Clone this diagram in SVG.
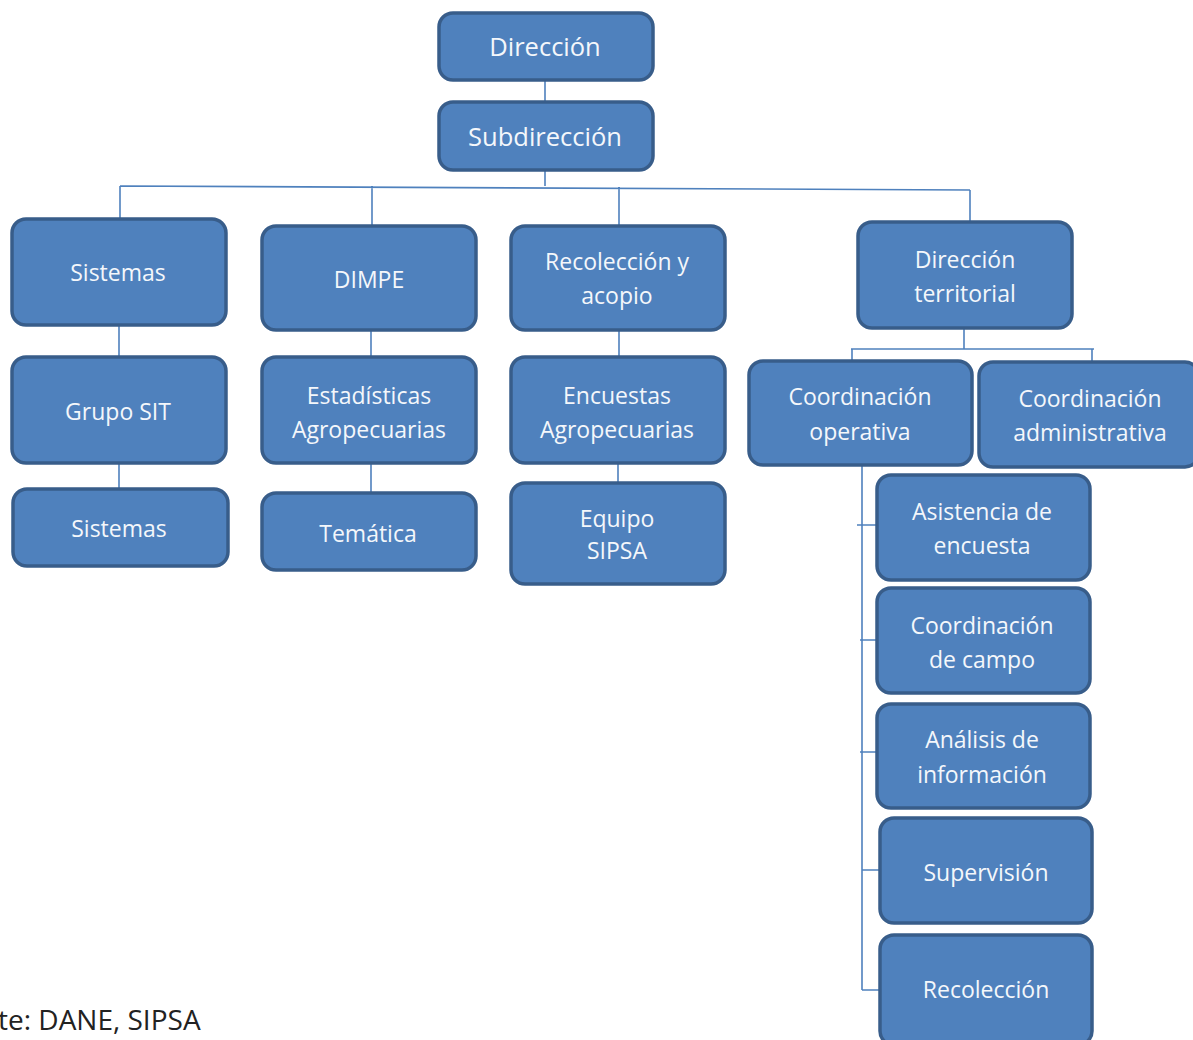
<svg xmlns="http://www.w3.org/2000/svg" width="1193" height="1040" viewBox="0 0 1193 1040">
<style>
.box{fill:#4f81bd;stroke:#385d8a;stroke-width:3.5}
.t{font-family:"Open Sans","Noto Sans","Liberation Sans",sans-serif;font-size:23px;fill:#f4f7fb;text-anchor:middle;dominant-baseline:central}
.big{font-size:25.5px}
.c{fill:none;stroke:#4f81bd;stroke-width:1.6}
</style>
<rect width="1193" height="1040" fill="#ffffff"/>
<g id="connectors">
<path class="c" d="M545 80V102M545 170V186M120 186L970 190M120 186V219M372 186V226M619 187V226M970 190V222"/>
<path class="c" d="M119 325V357M119 463V489M371 330V357M371 463V493M619 330V357M618 463V483"/>
<path class="c" d="M964 328V349M851 349H1094M852 349V361M1092 349V362"/>
<path class="c" d="M862 465V990M857 525H877M860 640H877M860 752H877M862 870H880M862 990H880"/>
</g>
<g id="n-direccion"><rect class="box" x="439" y="13" width="214" height="67" rx="14"/><text class="t big" x="545" y="46">Dirección</text></g>
<g id="n-subdireccion"><rect class="box" x="439" y="102" width="214" height="68" rx="14"/><text class="t big" x="545" y="136">Subdirección</text></g>
<g id="n-sistemas"><rect class="box" x="12" y="219" width="214" height="106" rx="14"/><text class="t" x="118" y="272">Sistemas</text></g>
<g id="n-dimpe"><rect class="box" x="262" y="226" width="214" height="104" rx="14"/><text class="t" x="369" y="279">DIMPE</text></g>
<g id="n-recoleccion-acopio"><rect class="box" x="511" y="226" width="214" height="104" rx="14"/><text class="t" x="617" y="261">Recolección y</text><text class="t" x="617" y="295">acopio</text></g>
<g id="n-direccion-territorial"><rect class="box" x="858" y="222" width="214" height="106" rx="14"/><text class="t" x="965" y="259">Dirección</text><text class="t" x="965" y="293">territorial</text></g>
<g id="n-grupo-sit"><rect class="box" x="12" y="357" width="214" height="106" rx="14"/><text class="t" x="118" y="411">Grupo SIT</text></g>
<g id="n-estadisticas"><rect class="box" x="262" y="357" width="214" height="106" rx="14"/><text class="t" x="369" y="395">Estadísticas</text><text class="t" x="369" y="429">Agropecuarias</text></g>
<g id="n-encuestas"><rect class="box" x="511" y="357" width="214" height="106" rx="14"/><text class="t" x="617" y="395">Encuestas</text><text class="t" x="617" y="429">Agropecuarias</text></g>
<g id="n-sistemas2"><rect class="box" x="13" y="489" width="215" height="77" rx="14"/><text class="t" x="119" y="528">Sistemas</text></g>
<g id="n-tematica"><rect class="box" x="262" y="493" width="214" height="77" rx="14"/><text class="t" x="368" y="533">Temática</text></g>
<g id="n-equipo-sipsa"><rect class="box" x="511" y="483" width="214" height="101" rx="14"/><text class="t" x="617" y="518">Equipo</text><text class="t" x="617" y="550">SIPSA</text></g>
<g id="n-coord-operativa"><rect class="box" x="749" y="361" width="223" height="104" rx="14"/><text class="t" x="860" y="396">Coordinación</text><text class="t" x="860" y="431">operativa</text></g>
<g id="n-coord-administrativa"><rect class="box" x="979" y="362" width="220" height="105" rx="14"/><text class="t" x="1090" y="398">Coordinación</text><text class="t" x="1090" y="432">administrativa</text></g>
<g id="n-asistencia"><rect class="box" x="877" y="475" width="213" height="105" rx="14"/><text class="t" x="982" y="511">Asistencia de</text><text class="t" x="982" y="545">encuesta</text></g>
<g id="n-coord-campo"><rect class="box" x="877" y="588" width="213" height="105" rx="14"/><text class="t" x="982" y="625">Coordinación</text><text class="t" x="982" y="659">de campo</text></g>
<g id="n-analisis"><rect class="box" x="877" y="704" width="213" height="104" rx="14"/><text class="t" x="982" y="739">Análisis de</text><text class="t" x="982" y="774">información</text></g>
<g id="n-supervision"><rect class="box" x="880" y="818" width="212" height="105" rx="14"/><text class="t" x="986" y="872">Supervisión</text></g>
<g id="n-recoleccion"><rect class="box" x="880" y="935" width="212" height="110" rx="14"/><text class="t" x="986" y="989">Recolección</text></g>
<text x="-2" y="1030" font-family="Open Sans, Noto Sans, Liberation Sans, sans-serif" font-size="28" fill="#222222">te: DANE, SIPSA</text>
</svg>
